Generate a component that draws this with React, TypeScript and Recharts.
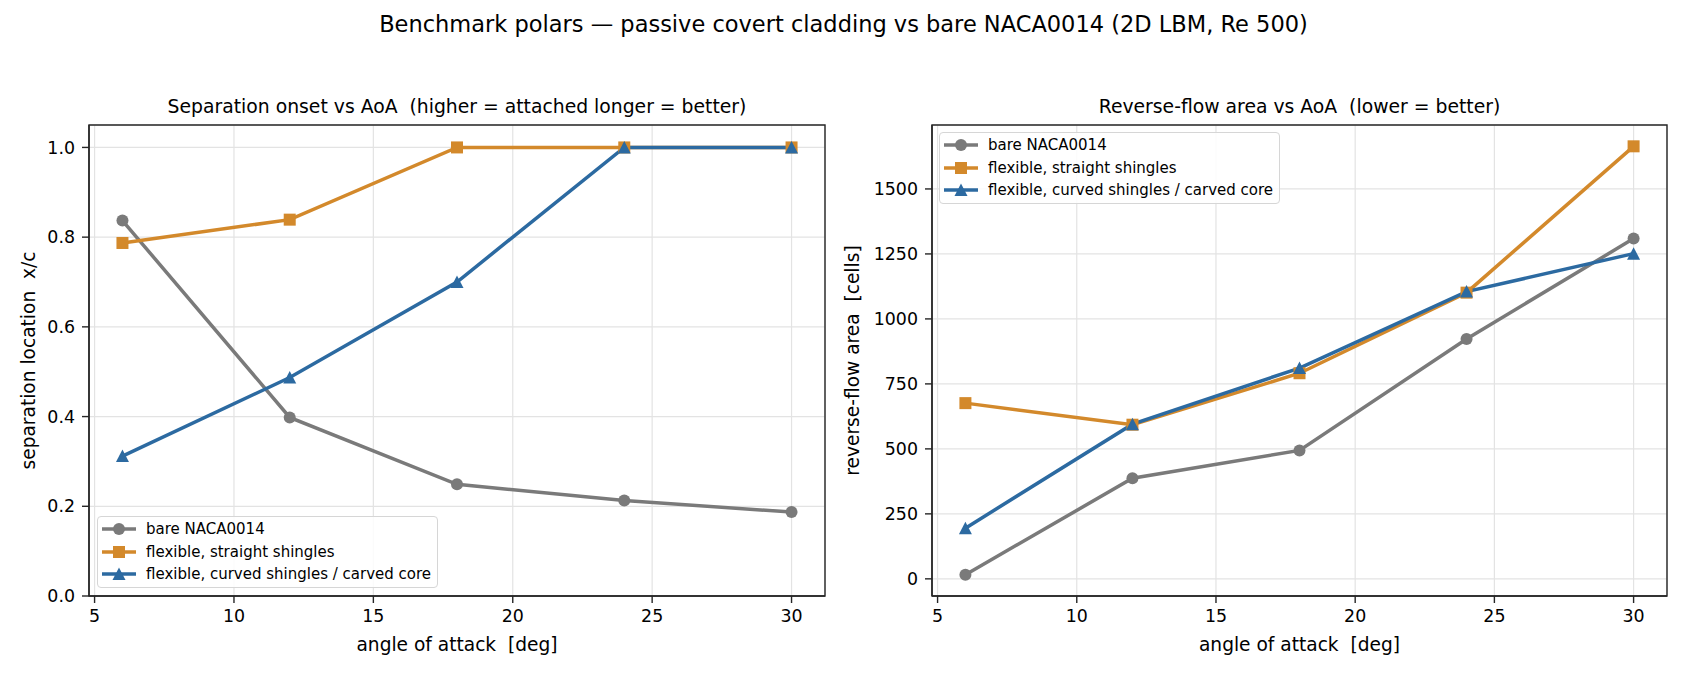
import React from 'react';
import { LineChart, Line, XAxis, YAxis, CartesianGrid, ReferenceArea } from 'recharts';

// angle of attack (deg)
const aoa = [6, 12, 18, 24, 30];
const aoaTicks = [5, 10, 15, 20, 25, 30];

// separation onset x/c
const sepBare = [0.837, 0.398, 0.249, 0.213, 0.187];
const sepStraight = [0.787, 0.839, 1.0, 1.0, 1.0];
const sepCurved = [0.312, 0.487, 0.7, 1.0, 1.0];
const sepTicks = [0, 0.2, 0.4, 0.6, 0.8, 1.0];

// reverse-flow area (cells)
const revBare = [16, 387, 494, 923, 1309];
const revStraight = [676, 593, 791, 1101, 1664];
const revCurved = [195, 595, 811, 1105, 1251];
const revTicks = [0, 250, 500, 750, 1000, 1250, 1500];

const seriesKeys = ['bare', 'straight', 'curved'];
const seriesNames = ['bare NACA0014', 'flexible, straight shingles', 'flexible, curved shingles / carved core'];
const seriesColors = ['#7a7a7a', '#d3892b', '#2c6aa1'];
const seriesMarkers = ['circle', 'square', 'triangle'];

const sepData = aoa.map((a, i) => ({ aoa: a, bare: sepBare[i], straight: sepStraight[i], curved: sepCurved[i] }));
const revData = aoa.map((a, i) => ({ aoa: a, bare: revBare[i], straight: revStraight[i], curved: revCurved[i] }));

const X_DOMAIN: [number, number] = [4.8, 31.2];
const FONT = '"DejaVu Sans", Verdana, sans-serif';
const SPINE = '#262626';

function Marker({ kind, cx, cy, color }: { kind: string; cx: number; cy: number; color: string }) {
  if (kind === 'circle') return <circle cx={cx} cy={cy} r={6} fill={color} />;
  if (kind === 'square') return <rect x={cx - 6} y={cy - 6} width={12} height={12} fill={color} />;
  return <polygon points={`${cx},${cy - 6.5} ${cx - 6.5},${cy + 6} ${cx + 6.5},${cy + 6}`} fill={color} />;
}

function LegendBox({ left, top }: { left: number; top: number }) {
  return (
    <div
      style={{
        position: 'absolute',
        left,
        top,
        width: 341,
        height: 72,
        boxSizing: 'border-box',
        border: '1.2px solid #d6d6d6',
        borderRadius: 4,
        background: 'rgba(255,255,255,0.85)',
        fontFamily: FONT,
        fontSize: 15,
        color: '#000',
      }}
    >
      {seriesNames.map((name, i) => {
        const cy = 12 + i * 22.7;
        return (
          <React.Fragment key={name}>
            <svg style={{ position: 'absolute', left: 0, top: cy - 10 }} width={46} height={20}>
              <line x1={4} x2={38} y1={10} y2={10} stroke={seriesColors[i]} strokeWidth={3.5} />
              <Marker kind={seriesMarkers[i]} cx={21} cy={10} color={seriesColors[i]} />
            </svg>
            <span style={{ position: 'absolute', left: 48, top: cy - 9, lineHeight: '18px', whiteSpace: 'nowrap' }}>
              {name}
            </span>
          </React.Fragment>
        );
      })}
    </div>
  );
}

function Panel({
  left,
  width,
  rightMargin,
  data,
  domain,
  ticks,
  fmt,
}: {
  left: number;
  width: number;
  rightMargin: number;
  data: any[];
  domain: [number, number];
  ticks: number[];
  fmt: (v: number) => string;
}) {
  const axisLine = { stroke: SPINE, strokeWidth: 1.4 };
  return (
    <div style={{ position: 'absolute', left, top: 0 }}>
      <LineChart width={width} height={675} data={data} margin={{ top: 125, right: rightMargin, bottom: 0, left: 29 }}>
        <CartesianGrid stroke="#e3e3e3" strokeWidth={1.2} />
        <XAxis
          dataKey="aoa"
          type="number"
          domain={X_DOMAIN}
          ticks={aoaTicks}
          interval={0}
          height={79}
          tickSize={7}
          tickMargin={7}
          axisLine={axisLine}
          tickLine={axisLine}
          tick={{ fill: '#000', fontSize: 17.4, fontFamily: FONT }}
          allowDataOverflow
        />
        <YAxis
          type="number"
          domain={domain}
          ticks={ticks}
          interval={0}
          width={60}
          tickSize={7}
          tickMargin={7}
          tickFormatter={fmt}
          axisLine={axisLine}
          tickLine={axisLine}
          tick={{ fill: '#000', fontSize: 17.4, fontFamily: FONT }}
          allowDataOverflow
        />
        {/* frame: top and right spines */}
        <ReferenceArea
          x1={X_DOMAIN[0]}
          x2={X_DOMAIN[1]}
          y1={domain[0]}
          y2={domain[1]}
          fill="none"
          fillOpacity={0}
          stroke={SPINE}
          strokeWidth={1.4}
          ifOverflow="visible"
        />
        {seriesKeys.map((k, i) => (
          <Line
            key={k}
            dataKey={k}
            stroke={seriesColors[i]}
            strokeWidth={3.5}
            isAnimationActive={false}
            activeDot={false}
            dot={(p: any) => (
              <Marker key={`${k}-${p.index}`} kind={seriesMarkers[i]} cx={p.cx} cy={p.cy} color={seriesColors[i]} />
            )}
          />
        ))}
      </LineChart>
    </div>
  );
}

export default function App() {
  return (
    <div
      style={{
        position: 'absolute',
        left: 0,
        top: 0,
        width: 1687,
        height: 675,
        background: '#fff',
        fontFamily: FONT,
        overflow: 'hidden',
      }}
    >
      <Panel left={0} width={843} rightMargin={18} data={sepData} domain={[0, 1.05]} ticks={sepTicks} fmt={(v) => v.toFixed(1)} />
      <Panel left={843} width={844} rightMargin={20} data={revData} domain={[-66, 1746]} ticks={revTicks} fmt={(v) => String(v)} />

      <svg
        width={1687}
        height={675}
        style={{ position: 'absolute', left: 0, top: 0, pointerEvents: 'none', fontFamily: FONT }}
      >
        <text x={843.5} y={32} textAnchor="middle" fontSize={22.5} fill="#000">
          Benchmark polars — passive covert cladding vs bare NACA0014 (2D LBM, Re 500)
        </text>
        <text x={457} y={113} textAnchor="middle" fontSize={18.8} fill="#000" style={{ whiteSpace: 'pre' }}>
          {'Separation onset vs AoA  (higher = attached longer = better)'}
        </text>
        <text x={1299.5} y={113} textAnchor="middle" fontSize={18.8} fill="#000" style={{ whiteSpace: 'pre' }}>
          {'Reverse-flow area vs AoA  (lower = better)'}
        </text>
        <text x={457} y={651} textAnchor="middle" fontSize={18.6} fill="#000" style={{ whiteSpace: 'pre' }}>
          {'angle of attack  [deg]'}
        </text>
        <text x={1299.5} y={651} textAnchor="middle" fontSize={18.6} fill="#000" style={{ whiteSpace: 'pre' }}>
          {'angle of attack  [deg]'}
        </text>
        <text
          x={35}
          y={360.5}
          textAnchor="middle"
          fontSize={18.6}
          fill="#000"
          transform="rotate(-90 35 360.5)"
          style={{ whiteSpace: 'pre' }}
        >
          {'separation location  x/c'}
        </text>
        <text
          x={859}
          y={360.5}
          textAnchor="middle"
          fontSize={18.6}
          fill="#000"
          transform="rotate(-90 859 360.5)"
          style={{ whiteSpace: 'pre' }}
        >
          {'reverse-flow area  [cells]'}
        </text>
      </svg>

      <LegendBox left={97} top={516} />
      <LegendBox left={939} top={132} />
    </div>
  );
}
